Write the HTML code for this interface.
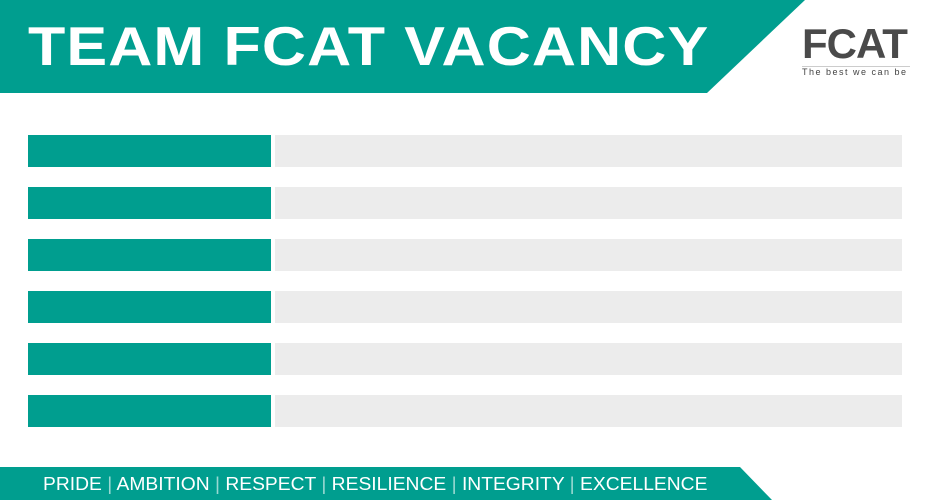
<!DOCTYPE html>
<html><head><meta charset="utf-8"><style>
body{margin:0;width:930px;height:500px;background:#fff;position:relative;overflow:hidden;font-family:"Liberation Sans",sans-serif}
.row{position:absolute;left:28px;width:874px;height:32px}
.row .k{position:absolute;left:0;top:0;width:243px;height:32px;background:#009e8f}
.row .v{position:absolute;left:247px;top:0;width:627px;height:32px;background:#ececec}
</style></head><body>
<svg width="930" height="500" style="position:absolute;left:0;top:0">
<polygon points="0,0 805,0 707,93 0,93" fill="#009e8f"/>
<polygon points="0,467 740,467 772,500 0,500" fill="#009e8f"/>
</svg>
<div style="position:absolute;left:28px;top:14px;color:#fff;font-weight:bold;font-size:55px;letter-spacing:1px;line-height:64px;white-space:nowrap;transform:scaleX(1.11);transform-origin:left">TEAM FCAT VACANCY</div>
<div style="position:absolute;left:802px;top:24px;width:108px">
<div style="font-size:42px;font-weight:bold;color:#4a4a4a;line-height:40px;letter-spacing:-1px">FCAT</div>
<div style="border-top:1px solid #ccc;margin-top:2px;font-size:9px;color:#444;letter-spacing:1.5px;white-space:nowrap">The best we can be</div>
</div>
<div class="row" style="top:135px"><div class="k"></div><div class="v"></div></div>
<div class="row" style="top:187px"><div class="k"></div><div class="v"></div></div>
<div class="row" style="top:239px"><div class="k"></div><div class="v"></div></div>
<div class="row" style="top:291px"><div class="k"></div><div class="v"></div></div>
<div class="row" style="top:343px"><div class="k"></div><div class="v"></div></div>
<div class="row" style="top:395px"><div class="k"></div><div class="v"></div></div>
<div style="position:absolute;left:43px;top:473px;color:#fff;font-size:18px;line-height:22px;white-space:nowrap;transform:scaleX(1.07);transform-origin:left">PRIDE <span style="opacity:.6">|</span> AMBITION <span style="opacity:.6">|</span> RESPECT <span style="opacity:.6">|</span> RESILIENCE <span style="opacity:.6">|</span> INTEGRITY <span style="opacity:.6">|</span> EXCELLENCE</div>
</body></html>
